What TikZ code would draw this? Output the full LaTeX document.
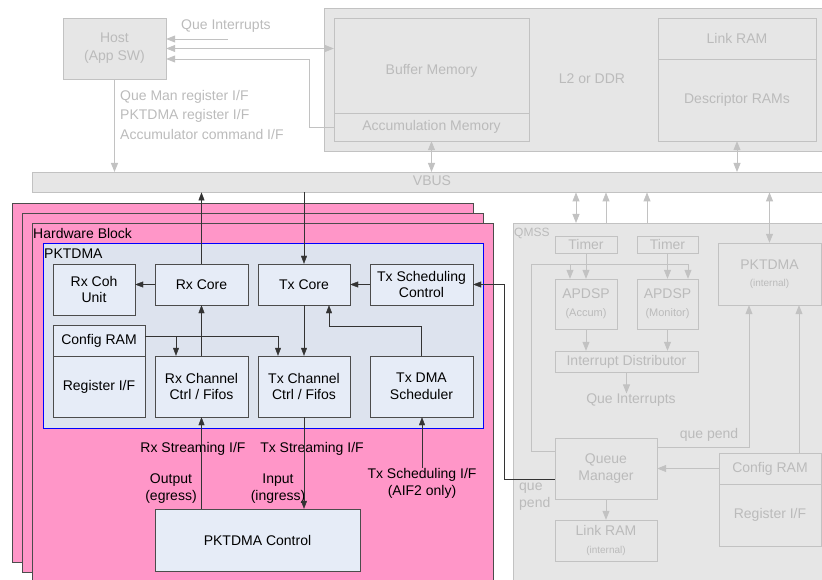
\documentclass[tikz,border=0pt]{standalone}
\usepackage{fontspec}
\setmainfont{Liberation Sans}
\usepackage{tikz}
\usetikzlibrary{arrows.meta,positioning,calc}
\definecolor{hwPink}{HTML}{FF96C8}
\definecolor{pktFill}{HTML}{DDE3EE}
\definecolor{boxFill}{HTML}{E6ECF7}
\definecolor{offFill}{HTML}{E6E6E6}
\definecolor{offLine}{HTML}{C2C2C2}
\definecolor{offText}{HTML}{BBBBBB}

\begin{document}
\begin{tikzpicture}[x=1pt,y=-1pt,font=\fontsize{14}{16.5}\selectfont,
  sz/.style 2 args={minimum width=#1pt,minimum height=#2pt},
  blk/.style={draw=black!70,fill=boxFill,align=center,inner sep=0pt},
  off/.style={draw=offLine,fill=offFill,text=offText,align=center,inner sep=0pt},
  offtxt/.style={text=offText,inner sep=0pt},
  arr/.style={-{Triangle[length=8pt,width=6pt]},black!80},
  garr/.style={-{Triangle[length=9pt,width=7pt]},offLine,line width=0.8pt},
  gdarr/.style={{Triangle[length=9pt,width=7pt]}-{Triangle[length=9pt,width=7pt]},offLine,line width=0.8pt}]
\useasboundingbox (0,0) rectangle (822,580);

% host and memory
\node[off,sz={103}{61},font=\fontsize{14}{18}\selectfont] (host) at (114.5,48.5) {Host\\(App SW)};
\node[off,sz={506}{143},anchor=north west] (l2) at (324,8) {};
\node[offtxt] (l2txt) at (592,79) {L2 or DDR};
\node[off,sz={195}{95}] (bufmem) at (431.5,65.5) {};
\node[offtxt] at (431.5,71) {Buffer Memory};
\node[off,sz={195}{28}] (accmem) at (431.5,127) {Accumulation Memory};
\node[off,sz={158}{41}] (linkram) at (737,38.5) {Link RAM};
\node[off,sz={158}{82}] (descram) at (737,100) {Descriptor RAMs};
\node[off,sz={798}{20},anchor=north west] (vbus) at (32,172) {};
\node[offtxt] at (432,180.5) {VBUS};

\node[offtxt,anchor=west] (qilab) at (181,26) {Que Interrupts};
\coordinate (qiend) at (228,39);
\draw[garr] (qiend) -- (qiend -| host.east);
\draw[gdarr] (host.east) -- (host.east -| bufmem.west);
\coordinate (accturn) at (309,59);
\draw[garr] (accmem.west) -| (accturn) -- (accturn -| host.east);
\draw[garr] (host.south) -- (host.south |- vbus.north);
\node[offtxt,anchor=north west,align=left,font=\fontsize{14}{19.5}\selectfont] (hostif) at (120,90)
  {Que Man register I/F\\PKTDMA register I/F\\Accumulator command I/F};
\draw[gdarr] (accmem.south) -- (accmem.south |- vbus.north);
\draw[gdarr] (descram.south) -- (descram.south |- vbus.north);

% QMSS
\node[off,sz={317}{367},anchor=north west] (qmss) at (513,223) {};
\node[offtxt,anchor=west,font=\fontsize{12}{14}\selectfont] at (514,233) {QMSS};
\node[off,sz={62}{17}] (timer1) at (586,244.5) {Timer};
\node[off,sz={61}{17}] (timer2) at (667.5,244.5) {Timer};
\node[off,sz={103}{62}] (pktint) at (769.5,274) {PKTDMA\\[1pt]{\fontsize{10}{12}\selectfont (internal)}};
\node[off,sz={62}{50}] (apdsp1) at (586,304) {APDSP\\[1pt]{\fontsize{11}{13}\selectfont (Accum)}};
\node[off,sz={61}{50}] (apdsp2) at (667.5,304) {APDSP\\[1pt]{\fontsize{11}{13}\selectfont (Monitor)}};
\node[off,sz={143}{21}] (intdist) at (626.5,361.5) {Interrupt Distributor};
\node[offtxt] (queint) at (631,400) {Que Interrupts};
\node[off,sz={102}{61}] (qm) at (606,468.5) {Queue\\Manager};
\node[off,sz={102}{41}] (linkint) at (606,540.5) {Link RAM\\[1pt]{\fontsize{10}{12}\selectfont (internal)}};
\node[off,sz={102}{31}] (qcfg) at (770,468.5) {Config RAM};
\node[off,sz={102}{62}] (qreg) at (770,515) {Register I/F};
\node[offtxt] at (709,435) {que pend};
\node[offtxt,anchor=north west,align=left] at (519,483) {que\\pend};

\foreach \x in {576} {
  \coordinate (vq) at (\x,0);
  \draw[gdarr] (vq |- vbus.south) -- (vq |- qmss.north);
}
\foreach \x in {606,647} {
  \coordinate (vq) at (\x,0);
  \draw[garr] (vq |- qmss.north) -- (vq |- vbus.south);
}
\draw[gdarr] (vbus.south -| pktint.north) -- (pktint.north);
\draw[garr] (timer1.south) -- (apdsp1.north);
\draw[garr] (timer2.south) -- (apdsp2.north);
\coordinate (qloop) at (531,264);
\coordinate (a1in) at (570,264);
\coordinate (a2in) at (688,264);
\draw[garr] ([yshift=17.5pt]qm.west) -| (qloop) -| (a2in |- apdsp2.north);
\draw[garr] (a1in) -- (a1in |- apdsp1.north);
\draw[garr] (apdsp1.south) -- (apdsp1.south |- intdist.north);
\draw[garr] (apdsp2.south) -- (apdsp2.south |- intdist.north);
\draw[garr] (intdist.south) -- (intdist.south |- queint.north);
\coordinate (qpend) at (749,0);
\draw[garr] ([yshift=21.5pt]qm.east) -| (qpend |- pktint.south);
\coordinate (cfgup) at ([xshift=29pt]qcfg.north);
\draw[garr] (cfgup) -- (cfgup |- pktint.south);
\draw[garr] (qcfg.west) -- (qcfg.west -| qm.east);
\draw[garr] (qm.south) -- (linkint.north);

% hardware block
\foreach \d in {0,10,20}
  \draw[draw=black!70,fill=hwPink] (12+\d,203+\d) rectangle (473+\d,562+\d);
\node[anchor=west,inner sep=0pt] at (33,233) {Hardware Block};
\node[draw=blue,line width=1.2pt,fill=pktFill,sz={440}{185},anchor=north west] (pkt) at (43,243) {};
\node[anchor=west,inner sep=0pt] at (44,254) {PKTDMA};

\node[blk,sz={82}{51}] (rxcoh) at (94,289.5) {Rx Coh\\Unit};
\node[blk,sz={93}{41}] (rxcore) at (201.5,284.5) {Rx Core};
\node[blk,sz={92}{41}] (txcore) at (304,284.5) {Tx Core};
\node[blk,sz={103}{41}] (txsc) at (421.5,284.5) {Tx Scheduling\\Control};
\node[blk,sz={92}{31}] (cfgram) at (99,340.5) {Config RAM};
\node[blk,sz={92}{61}] (regif) at (99,386.5) {Register I/F};
\node[blk,sz={93}{61}] (rxch) at (201.5,386.5) {Rx Channel\\Ctrl / Fifos};
\node[blk,sz={92}{61}] (txch) at (304,386.5) {Tx Channel\\Ctrl / Fifos};
\node[blk,sz={103}{61}] (txdma) at (421.5,386.5) {Tx DMA\\Scheduler};
\node[blk,sz={205}{62}] (ctrl) at (257.5,540) {PKTDMA Control};

\node (rxsif) at (193,449) {Rx Streaming I/F};
\node (txsif) at (312,449) {Tx Streaming I/F};
\node[align=center,inner sep=0pt] (outlab) at (171,488.5) {Output\\(egress)};
\node[align=center,inner sep=0pt] (inlab) at (278,488.5) {Input\\(ingress)};
\node[align=center,inner sep=1pt] (schif) at (422,483.5) {Tx Scheduling I/F\\(AIF2 only)};

\draw[arr] (rxcore.north) -- (rxcore.north |- vbus.south);
\draw[arr] (vbus.south -| txcore.north) -- (txcore.north);
\draw[arr] (rxcore.west) -- (rxcore.west -| rxcoh.east);
\draw[arr] (txsc.west) -- (txcore.east);
\draw[arr] (rxch.north) -- (rxcore.south);
\draw[arr] (txcore.south) -- (txch.north);
\draw[arr] ([yshift=4.5pt]cfgram.east) -| ([xshift=-26pt]txch.north);
\coordinate (rxin) at ([xshift=-25.5pt]rxch.north);
\draw[arr] (rxin |- 0,336) -- (rxin);
\coordinate (dmaturn) at (329,326);
\draw[arr] (txdma.north) |- (dmaturn) -- (dmaturn |- txcore.south);
\draw[arr] (ctrl.north -| rxch.south) -- (rxch.south);
\draw[arr] (txch.south) -- (txch.south |- ctrl.north);
\draw[arr] (schif.north) -- (schif.north |- txdma.south);
\coordinate (qturn) at (504,0);
\draw[arr] ([yshift=-10.5pt]qm.west) -| (qturn |- txsc.east) -- (txsc.east);
\end{tikzpicture}
\end{document}
